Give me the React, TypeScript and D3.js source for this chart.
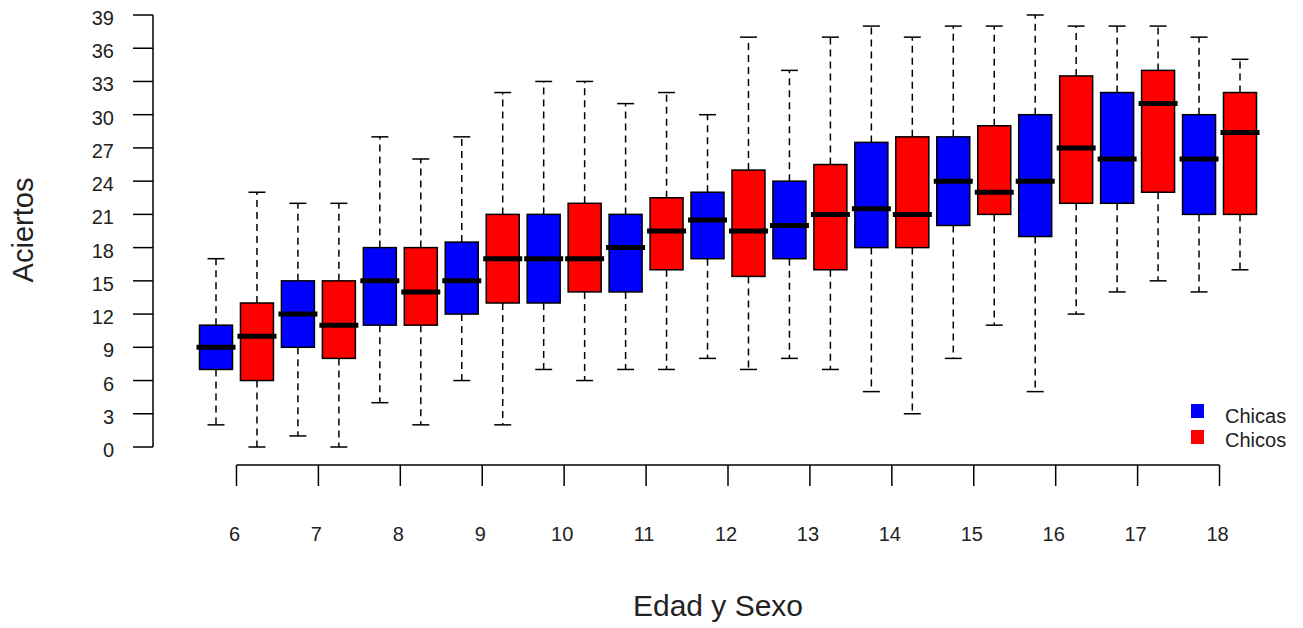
import React from "react";
import * as d3 from "d3";

const ages = [6, 7, 8, 9, 10, 11, 12, 13, 14, 15, 16, 17, 18];
// five-number summaries [min, q1, median, q3, max]
const chicas = [
  [2, 7, 9, 11, 17],
  [1, 9, 12, 15, 22],
  [4, 11, 15, 18, 28],
  [6, 12, 15, 18.5, 28],
  [7, 13, 17, 21, 33],
  [7, 14, 18, 21, 31],
  [8, 17, 20.5, 23, 30],
  [8, 17, 20, 24, 34],
  [5, 18, 21.5, 27.5, 38],
  [8, 20, 24, 28, 38],
  [5, 19, 24, 30, 39],
  [14, 22, 26, 32, 38],
  [14, 21, 26, 30, 37],
];
const chicos = [
  [0, 6, 10, 13, 23],
  [0, 8, 11, 15, 22],
  [2, 11, 14, 18, 26],
  [2, 13, 17, 21, 32],
  [6, 14, 17, 22, 33],
  [7, 16, 19.5, 22.5, 32],
  [7, 15.4, 19.5, 25, 37],
  [7, 16, 21, 25.5, 37],
  [3, 18, 21, 28, 37],
  [11, 21, 23, 29, 38],
  [12, 22, 27, 33.5, 38],
  [15, 23, 31, 34, 38],
  [16, 21, 28.4, 32, 35],
];
const yTicks = d3.range(0, 40, 3);
const seriesNames = ["Chicas", "Chicos"];
const seriesColors = ["#0000ff", "#ff0000"];

export default function App() {
  const W = 1303;
  const H = 628;
  const x = d3.scaleLinear().domain([1, 26]).range([216, 1240]);
  const y = d3.scaleLinear().domain([0, 39]).range([447, 15]);
  const boxW = 33;
  const capW = 17;
  const font = "'Liberation Sans', Arial, sans-serif";

  const boxes: { pos: number; s: number[]; color: string }[] = [];
  ages.forEach((_, i) => {
    boxes.push({ pos: 2 * i + 1, s: chicas[i], color: seriesColors[0] });
    boxes.push({ pos: 2 * i + 2, s: chicos[i], color: seriesColors[1] });
  });
  const agePos = (i: number) => x(2 * i + 1.5);
  const axisY = 465;

  return (
    <svg
      width={W}
      height={H}
      style={{ position: "absolute", left: 0, top: 0, display: "block", background: "#fff" }}
      fontFamily={font}
    >
      <rect width={W} height={H} fill="#fff" />
      {/* y axis */}
      <line x1={153} x2={153} y1={y(0)} y2={y(39)} stroke="#000" strokeWidth={1.5} />
      {yTicks.map((t) => (
        <g key={t}>
          <line x1={133} x2={153} y1={y(t)} y2={y(t)} stroke="#000" strokeWidth={1.5} />
          <text x={114} y={y(t) + 10} fontSize={20} textAnchor="end" fill="#222">
            {t}
          </text>
        </g>
      ))}
      <text
        transform={`translate(33,230) rotate(-90)`}
        fontSize={29}
        textAnchor="middle"
        fill="#222"
      >
        Aciertos
      </text>

      {/* boxes */}
      {boxes.map((b, k) => {
        const cx = x(b.pos);
        const [mn, q1, md, q3, mx] = b.s;
        return (
          <g key={k}>
            <line x1={cx} x2={cx} y1={y(q3)} y2={y(mx)} stroke="#000" strokeWidth={1.5} strokeDasharray="7,5" />
            <line x1={cx} x2={cx} y1={y(q1)} y2={y(mn)} stroke="#000" strokeWidth={1.5} strokeDasharray="7,5" />
            <line x1={cx - capW / 2} x2={cx + capW / 2} y1={y(mx)} y2={y(mx)} stroke="#000" strokeWidth={1.5} />
            <line x1={cx - capW / 2} x2={cx + capW / 2} y1={y(mn)} y2={y(mn)} stroke="#000" strokeWidth={1.5} />
            <rect
              x={cx - boxW / 2}
              y={y(q3)}
              width={boxW}
              height={y(q1) - y(q3)}
              fill={b.color}
              stroke="#000"
              strokeWidth={1.5}
            />
            <line x1={cx - boxW / 2 - 3} x2={cx + boxW / 2 + 3} y1={y(md)} y2={y(md)} stroke="#000" strokeWidth={5} />
          </g>
        );
      })}

      {/* lower age axis */}
      <line x1={agePos(0)} x2={agePos(ages.length - 1)} y1={axisY} y2={axisY} stroke="#000" strokeWidth={1.5} />
      {ages.map((a, i) => (
        <g key={a}>
          <line x1={agePos(i)} x2={agePos(i)} y1={axisY} y2={axisY + 21} stroke="#000" strokeWidth={1.5} />
          <text x={agePos(i) - 2} y={541} fontSize={20} textAnchor="middle" fill="#222">
            {a}
          </text>
        </g>
      ))}
      <text x={718} y={616} fontSize={30} textAnchor="middle" fill="#222">
        Edad y Sexo
      </text>

      {/* legend */}
      {seriesNames.map((n, i) => (
        <g key={n}>
          <rect x={1191} y={404 + i * 26} width={13} height={14} fill={seriesColors[i]} />
          <text x={1225} y={423 + i * 24} fontSize={20} fill="#222">
            {n}
          </text>
        </g>
      ))}
    </svg>
  );
}
